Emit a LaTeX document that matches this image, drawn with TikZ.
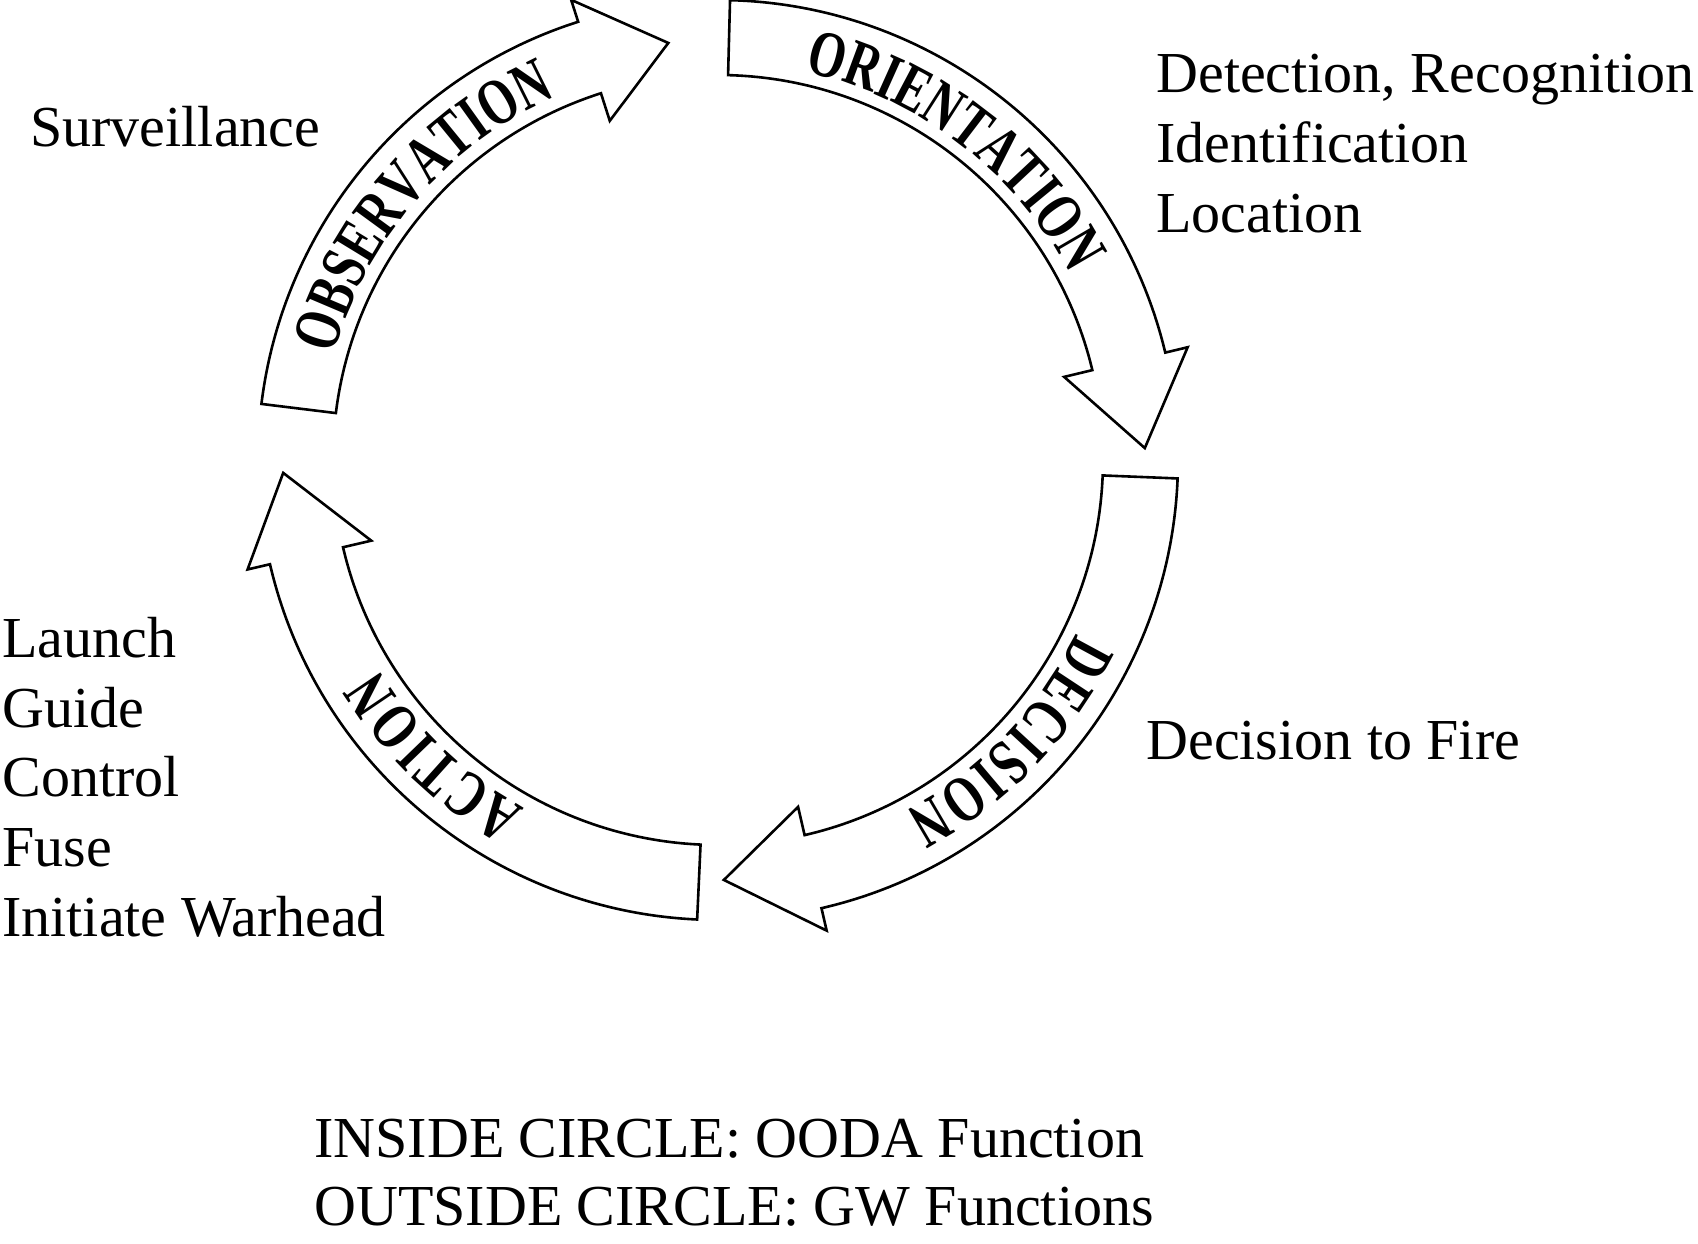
\documentclass[tikz,border=0pt]{standalone}
\usepackage{fontspec}
\setmainfont{Liberation Serif}
\newfontfamily\oodafamily[FakeStretch=0.72]{Liberation Serif}
\usetikzlibrary{decorations.text}
\newcommand\oodafont{\oodafamily\fontsize{33pt}{33pt}\selectfont\bfseries}
\newcommand\oodaarrow[4]{%
  \draw[bandarrow] (#1:230pt) arc[start angle=#1, end angle=#2, radius=230pt]
     -- (#2:241.5pt) -- (#3:#4) -- (#2:178pt) -- (#2:192.5pt)
     arc[start angle=#2, end angle=#1, radius=192.5pt] -- cycle;}
\tikzset{
  bandarrow/.style={draw=black, line width=1.3pt, fill=white, line join=miter},
  gwtext/.style={font=\fontsize{29pt}{34pt}\selectfont, inner sep=0pt, anchor=base west},
  arclabel/.style={decorate, decoration={text along path, text align=fit to path, text={|\oodafont|#1}}}
}
\begin{document}
\begin{tikzpicture}
\useasboundingbox (0,0) rectangle (849pt,621.5pt);
\begin{scope}[shift={(359pt,391.5pt)}]
  % OODA arrows (clockwise)
  \oodaarrow{173}{107.7}{96.8}{210pt}
  \oodaarrow{88.5}{13.5}{1.6}{213.5pt}
  \oodaarrow{-2.3}{-77}{-89.2}{210pt}
  \oodaarrow{-92.6}{-166.9}{-178.3}{217.5pt}
  % curved labels
  \path[arclabel=OBSERVATION] (164.6:199pt) arc[start angle=164.6, end angle=114.4, radius=199pt];
  \path[arclabel=ORIENTATION] (77.5:199pt) arc[start angle=77.5, end angle=27.8, radius=199pt];
  \path[arclabel=DECISION] (-25.9:199pt) arc[start angle=-25.9, end angle=-62, radius=199pt];
  \path[arclabel=ACTION] (-119:199pt) arc[start angle=-119, end angle=-148.4, radius=199pt];
\end{scope}
% GW functions
\node[gwtext] (surv) at (15pt,548pt) {Surveillance};
\node[gwtext] (det) at (578pt,575pt) {Detection, Recognition};
\node[gwtext] (ident) at (578pt,540pt) {Identification};
\node[gwtext] (loc) at (578pt,505pt) {Location};
\node[gwtext] (fire) at (573pt,241.5pt) {Decision to Fire};
\node[gwtext] (launch) at (1pt,292.5pt) {Launch};
\node[gwtext] (guide) at (1pt,257.5pt) {Guide};
\node[gwtext] (control) at (1pt,223pt) {Control};
\node[gwtext] (fuse) at (1pt,188pt) {Fuse};
\node[gwtext] (warhead) at (1pt,153pt) {Initiate Warhead};
\node[gwtext] (inside) at (157pt,42.5pt) {INSIDE CIRCLE: OODA Function};
\node[gwtext] (outside) at (157pt,9pt) {OUTSIDE CIRCLE: GW Functions};
\end{tikzpicture}
\end{document}
